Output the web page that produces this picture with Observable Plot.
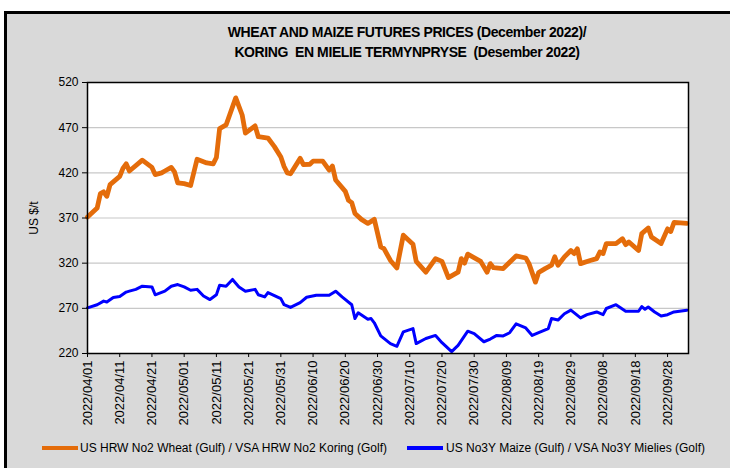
<!DOCTYPE html>
<html>
<head>
<meta charset="utf-8">
<script src="https://cdn.jsdelivr.net/npm/d3@7"></script>
<script src="https://cdn.jsdelivr.net/npm/@observablehq/plot@0.6"></script>
<style>
  html, body { margin: 0; padding: 0; background: #fff; overflow: hidden; }
  #wrap { position: relative; width: 730px; height: 468px; overflow: hidden; }
  #box { position: absolute; left: 4px; top: 11px; width: 740px; height: 470px; background: #d9d9d9; border-left: 3px solid #000; border-top: 3px solid #000; }
  #title { position: absolute; left: 87px; width: 640px; top: 22px; text-align: center; font-family: "Liberation Sans", Arial, sans-serif; font-weight: bold; font-size: 14px; letter-spacing: -0.4px; line-height: 20px; color: #000; white-space: pre; }
  #chart { position: absolute; left: 0; top: 0; }
  #legend { position: absolute; top: 439px; left: 0; width: 730px; height: 18px; font-family: "Liberation Sans", Arial, sans-serif; font-size: 12px; color: #000; }
  .sw { position: absolute; top: 7px; height: 4px; width: 36px; }
  .lt { position: absolute; top: 0; white-space: pre; line-height: 18px; }
  #chart svg g[aria-label="x-axis tick label"] text { font-size: 13px; }
</style>
</head>
<body>
<div id="wrap">
  <div id="box"></div>
  <div id="chart"></div>
  <div id="title"></div>
  <div id="legend"></div>
</div>
<script>
const titleLines = ["WHEAT AND MAIZE FUTURES PRICES (December 2022)/", "KORING  EN MIELIE TERMYNPRYSE  (Desember 2022)"];
const seriesNames = ["US HRW No2 Wheat (Gulf) / VSA HRW No2 Koring (Golf)", "US No3Y Maize (Gulf) / VSA No3Y Mielies (Golf)"];
const seriesColors = ["#E46C0A", "#0000FF"];
const yLabel = "US $/t";
const yTicks = [220, 270, 320, 370, 420, 470, 520];
const xTicks = ["2022-04-01","2022-04-11","2022-04-21","2022-05-01","2022-05-11","2022-05-21","2022-05-31","2022-06-10","2022-06-20","2022-06-30","2022-07-10","2022-07-20","2022-07-30","2022-08-09","2022-08-19","2022-08-29","2022-09-08","2022-09-18","2022-09-28"];
const xDomain = ["2022-04-01", "2022-10-04T12:00"];

const wheatDates = ["2022-04-01","2022-04-04","2022-04-05","2022-04-06","2022-04-07","2022-04-08","2022-04-11","2022-04-12","2022-04-13","2022-04-14","2022-04-18","2022-04-21","2022-04-22","2022-04-24","2022-04-25","2022-04-27","2022-04-28","2022-04-29","2022-05-01","2022-05-03","2022-05-05","2022-05-08","2022-05-10","2022-05-11","2022-05-12","2022-05-14","2022-05-17","2022-05-19","2022-05-20","2022-05-23","2022-05-24","2022-05-27","2022-05-29","2022-05-31","2022-06-01","2022-06-02","2022-06-03","2022-06-06","2022-06-07","2022-06-09","2022-06-10","2022-06-13","2022-06-15","2022-06-16","2022-06-17","2022-06-20","2022-06-21","2022-06-22","2022-06-23","2022-06-25","2022-06-27","2022-06-29","2022-07-01","2022-07-02","2022-07-04","2022-07-06","2022-07-08","2022-07-11","2022-07-12","2022-07-15","2022-07-18","2022-07-20","2022-07-22","2022-07-25","2022-07-26","2022-07-27","2022-07-28","2022-08-01","2022-08-03","2022-08-04","2022-08-05","2022-08-08","2022-08-12","2022-08-15","2022-08-16","2022-08-18","2022-08-19","2022-08-21","2022-08-23","2022-08-24","2022-08-25","2022-08-27","2022-08-29","2022-08-30","2022-08-31","2022-09-01","2022-09-04","2022-09-06","2022-09-07","2022-09-08","2022-09-09","2022-09-12","2022-09-14","2022-09-15","2022-09-16","2022-09-19","2022-09-20","2022-09-22","2022-09-23","2022-09-26","2022-09-28","2022-09-29","2022-09-30","2022-10-02","2022-10-04"];
const wheatValues = [371,381,397,399,394,407,416,425,430,422,434,426,418,420,422,426,421,409,408,406,435,431,430,437,469,473,503,484,464,472,460,458.5,449,437.5,427,420,419,436,429,429.5,433,433,423,427.5,412,399.5,389.5,387,375,368.5,364,368.5,338,336,323,314.7,351,341,322,310,325,322,304,310,325,320,330,322,310,319.5,315,314,328,325.7,319.5,299,309.6,314,317.7,327,317.7,327,334,330.6,336,319.5,323,325,332.4,330.6,341.7,341.7,347,340.5,343.5,334,352.7,359,349,341.7,358,355,365,364.5,364];

const maizeDates = ["2022-04-01","2022-04-04","2022-04-06","2022-04-07","2022-04-09","2022-04-11","2022-04-13","2022-04-14","2022-04-16","2022-04-18","2022-04-21","2022-04-22","2022-04-25","2022-04-27","2022-04-29","2022-05-01","2022-05-03","2022-05-05","2022-05-07","2022-05-09","2022-05-11","2022-05-12","2022-05-14","2022-05-16","2022-05-18","2022-05-20","2022-05-23","2022-05-24","2022-05-26","2022-05-27","2022-05-31","2022-06-01","2022-06-03","2022-06-06","2022-06-08","2022-06-11","2022-06-15","2022-06-17","2022-06-19","2022-06-22","2022-06-23","2022-06-24","2022-06-27","2022-06-28","2022-06-29","2022-07-01","2022-07-04","2022-07-06","2022-07-08","2022-07-11","2022-07-12","2022-07-15","2022-07-18","2022-07-20","2022-07-23","2022-07-25","2022-07-28","2022-07-30","2022-08-02","2022-08-04","2022-08-06","2022-08-08","2022-08-10","2022-08-12","2022-08-15","2022-08-17","2022-08-19","2022-08-22","2022-08-23","2022-08-25","2022-08-27","2022-08-29","2022-09-01","2022-09-03","2022-09-06","2022-09-08","2022-09-09","2022-09-12","2022-09-15","2022-09-19","2022-09-20","2022-09-21","2022-09-22","2022-09-24","2022-09-26","2022-09-28","2022-09-30","2022-10-04"];
const maizeValues = [270.5,274,278,277,282,283,288,289,291,294.5,293.7,285,289,294.5,296.3,293.7,290,291,283.7,279.7,285,295.5,294.5,302,293.7,289,291,285,282.6,287.5,280.8,274,271,276.4,282.3,284.5,284.5,289,282.6,274,258.7,265,258,258.7,254,239.5,231,228,244,247.6,231,236.6,240,232,222,229,244.7,242,233,236,240,239.5,243,252.8,248.3,240,243,247.6,258.7,257,264,268,259.4,263,266,263,269.8,274,266.8,266.8,272,269,271.5,266,261.6,263,266,268];

const wheat = wheatDates.map((d, i) => ({date: new Date(d), value: wheatValues[i]}));
const maize = maizeDates.map((d, i) => ({date: new Date(d), value: maizeValues[i]}));

document.getElementById("title").textContent = titleLines.join("\n");

const chart = Plot.plot({
  width: 730,
  height: 468,
  marginLeft: 87,
  marginRight: 42,
  marginTop: 82,
  marginBottom: 115,
  style: {fontFamily: "'Liberation Sans', Arial, sans-serif", fontSize: "12px", background: "transparent", color: "#000", overflow: "visible"},
  x: {type: "utc", domain: xDomain.map(d => new Date(d))},
  y: {domain: [yTicks[0], yTicks[yTicks.length - 1]]},
  marks: [
    Plot.frame({fill: "white", stroke: null}),
    Plot.gridY(yTicks.slice(1, -1), {stroke: "#c8c8c8", strokeOpacity: 1, strokeWidth: 1.2}),
    Plot.line(wheat, {x: "date", y: "value", stroke: seriesColors[0], strokeWidth: 4.8}),
    Plot.line(maize, {x: "date", y: "value", stroke: seriesColors[1], strokeWidth: 3}),
    Plot.frame({stroke: "#000", strokeWidth: 1.5}),
    Plot.axisY({ticks: yTicks, tickSize: 5, tickPadding: 4, label: yLabel, labelAnchor: "center", labelArrow: "none", labelOffset: 58}),
    Plot.axisX({ticks: xTicks.map(d => new Date(d)), tickFormat: d3.utcFormat("%Y/%m/%d"), tickRotate: -90, tickSize: 4, tickPadding: 3, label: null})
  ]
});
document.getElementById("chart").appendChild(chart);

const legend = document.getElementById("legend");
const legendPos = [[42, 80], [407, 446]];
seriesNames.forEach((name, i) => {
  const sw = document.createElement("div");
  sw.className = "sw";
  sw.style.left = legendPos[i][0] + "px";
  sw.style.background = seriesColors[i];
  legend.appendChild(sw);
  const t = document.createElement("div");
  t.className = "lt";
  t.style.left = legendPos[i][1] + "px";
  t.textContent = name;
  legend.appendChild(t);
});
</script>
</body>
</html>
